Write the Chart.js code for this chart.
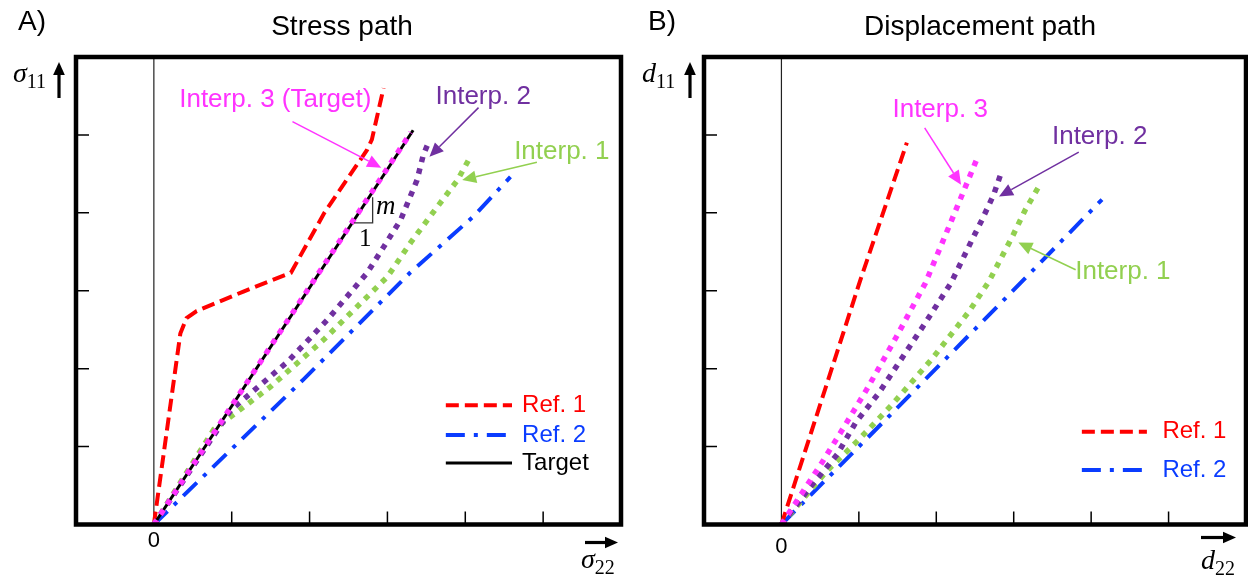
<!DOCTYPE html>
<html>
<head>
<meta charset="utf-8">
<script src="https://cdn.jsdelivr.net/npm/chart.js@4.4.0/dist/chart.umd.min.js"></script>
<style>
  html, body { margin: 0; padding: 0; background: #fff; }
  #quadro { position: relative; width: 1248px; height: 581px; overflow: hidden; }
  #quadro canvas { position: absolute; top: 0; }
</style>
</head>
<body>
<div id="quadro">
  <canvas id="graficoTensao" width="624" height="581" style="left:0"></canvas>
  <canvas id="graficoDesloc" width="624" height="581" style="left:624px"></canvas>
</div>
<script>
// valores, em unidades de marca (1 = um tick)
const marcasEixo = [1, 2, 3, 4, 5];

// A) Stress path: x = sigma22, y = sigma11
const tensaoRef1X = [0, 0.34, 0.42, 0.55, 1.15, 1.76, 2.19, 2.74, 2.80, 2.95];
const tensaoRef1Y = [0, 2.45, 2.65, 2.74, 2.99, 3.23, 4.00, 4.81, 4.94, 5.60];
const tensaoRef2X = [0, 0.69, 1.92, 3.29, 4.10, 4.58];
const tensaoRef2Y = [0, 0.67, 1.86, 3.23, 3.95, 4.46];
const tensaoAlvoX = [0, 3.33];
const tensaoAlvoY = [0, 5.06];
const tensaoInterp3X = [0, 3.30];
const tensaoInterp3Y = [0, 5.03];
const tensaoInterp2X = [0, 0.99, 1.72, 2.23, 2.74, 2.95, 3.17, 3.38, 3.46, 3.53];
const tensaoInterp2Y = [0, 1.47, 2.09, 2.63, 3.23, 3.56, 3.91, 4.42, 4.74, 4.91];
const tensaoInterp1X = [0, 0.77, 1.50, 2.18, 3.00, 3.30, 3.62, 3.90, 4.06];
const tensaoInterp1Y = [0, 1.22, 1.77, 2.37, 3.18, 3.62, 4.05, 4.42, 4.71];

// B) Displacement path: x = d22, y = d11
const deslocRef1X = [0, 0.52, 1.02, 1.62];
const deslocRef1Y = [0, 1.60, 3.14, 4.90];
const deslocRef2X = [0, 1.35, 2.94, 4.14];
const deslocRef2Y = [0, 1.35, 2.95, 4.17];
const deslocInterp3X = [0, 0.52, 0.77, 1.10, 1.48, 1.86, 2.20, 2.52];
const deslocInterp3Y = [0, 0.79, 1.19, 1.73, 2.40, 3.10, 3.91, 4.68];
const deslocInterp2X = [0, 0.38, 0.72, 0.96, 1.26, 1.60, 1.86, 2.19, 2.46, 2.59, 2.74, 2.83];
const deslocInterp2Y = [0, 0.49, 0.90, 1.31, 1.69, 2.20, 2.59, 3.10, 3.65, 3.91, 4.23, 4.49];
const deslocInterp1X = [0, 0.57, 1.00, 1.43, 1.94, 2.42, 2.68, 2.98, 3.15, 3.35];
const deslocInterp1Y = [0, 0.67, 1.09, 1.54, 2.12, 2.73, 3.12, 3.69, 4.04, 4.38];

const VERMELHO = "#ff0000";
const AZUL = "#0a3cff";
const PRETO = "#000000";
const MAGENTA = "#ff33ff";
const ROXO = "#7030a0";
const VERDE = "#92d050";
const FONTE = '"Liberation Sans", Arial, sans-serif';
const SERIFA = '"Liberation Serif", "DejaVu Serif", serif';
const PONTILHADO = [5.5, 6.5];

function pontos(xs, ys) {
  return xs.map((x, i) => ({ x: x, y: ys[i] }));
}

function serie(rotulo, xs, ys, cor, largura, traco, ordem) {
  return {
    label: rotulo,
    data: pontos(xs, ys),
    showLine: true,
    borderColor: cor,
    backgroundColor: cor,
    borderWidth: largura,
    borderDash: traco,
    borderCapStyle: "butt",
    pointRadius: 0,
    pointHoverRadius: 0,
    tension: 0,
    fill: false,
    order: ordem,
  };
}

function desenhaSeta(ctx, x1, y1, x2, y2, cor, largura, ponta) {
  const ang = Math.atan2(y2 - y1, x2 - x1);
  const bx = x2 - ponta * Math.cos(ang);
  const by = y2 - ponta * Math.sin(ang);
  const meia = ponta * 0.45;
  ctx.strokeStyle = cor;
  ctx.fillStyle = cor;
  ctx.lineWidth = largura;
  ctx.setLineDash([]);
  ctx.beginPath();
  ctx.moveTo(x1, y1);
  ctx.lineTo(bx, by);
  ctx.stroke();
  ctx.beginPath();
  ctx.moveTo(x2, y2);
  ctx.lineTo(bx + meia * Math.sin(ang), by - meia * Math.cos(ang));
  ctx.lineTo(bx - meia * Math.sin(ang), by + meia * Math.cos(ang));
  ctx.closePath();
  ctx.fill();
}

function desenhaVariavel(ctx, letra, sub, x, base) {
  ctx.fillStyle = PRETO;
  ctx.textAlign = "left";
  ctx.textBaseline = "alphabetic";
  ctx.font = "italic 28px " + SERIFA;
  ctx.fillText(letra, x, base);
  const w = ctx.measureText(letra).width;
  ctx.font = "20px " + SERIFA;
  ctx.fillText(sub, x + w, base + 6);
}

const enfeites = {
  id: "enfeites",
  beforeDatasetsDraw(chart) {
    const { ctx, chartArea: a, scales } = chart;
    const x0 = scales.x.getPixelForValue(0);
    ctx.save();
    ctx.strokeStyle = "#222";
    ctx.lineWidth = 1.2;
    ctx.beginPath();
    ctx.moveTo(x0, a.top);
    ctx.lineTo(x0, a.bottom);
    ctx.stroke();
    ctx.restore();
  },
  afterDraw(chart, args, op) {
    const { ctx, chartArea: a, scales } = chart;
    const px = (v) => scales.x.getPixelForValue(v);
    const py = (v) => scales.y.getPixelForValue(v);
    ctx.save();

    // marcas dos eixos, para dentro
    ctx.strokeStyle = PRETO;
    ctx.lineWidth = 1.5;
    marcasEixo.forEach((v) => {
      ctx.beginPath();
      ctx.moveTo(a.left, py(v));
      ctx.lineTo(a.left + 13, py(v));
      ctx.moveTo(px(v), a.bottom);
      ctx.lineTo(px(v), a.bottom - 13);
      ctx.stroke();
    });

    // moldura
    ctx.lineWidth = 4.5;
    ctx.strokeRect(a.left, a.top, a.right - a.left, a.bottom - a.top);

    // titulos
    ctx.fillStyle = PRETO;
    ctx.font = "28px " + FONTE;
    ctx.textBaseline = "middle";
    ctx.textAlign = "left";
    ctx.fillText(op.letra, op.letraX, 22);
    ctx.textAlign = "center";
    ctx.fillText(op.titulo, op.tituloX, 27);

    // zero no eixo x
    ctx.font = "22px " + FONTE;
    ctx.fillText("0", px(0), a.bottom + op.zeroDy);

    // rotulos dos eixos com setas
    const ey = op.eixoY;
    desenhaVariavel(ctx, ey.letra, ey.sub, a.left + ey.dx, a.top + 25);
    desenhaSeta(ctx, a.left + ey.setaDx, a.top + 41, a.left + ey.setaDx, a.top + 5, PRETO, 3.2, 13);
    const ex = op.eixoX;
    desenhaVariavel(ctx, ex.letra, ex.sub, a.right + ex.dx, a.bottom + ex.base);
    desenhaSeta(ctx, a.right + ex.setaDe, a.bottom + ex.setaDy, a.right + ex.setaAte, a.bottom + ex.setaDy, PRETO, 3.2, 13);

    // legenda
    const leg = op.legenda;
    leg.itens.forEach(([indice, yv]) => {
      const ds = chart.data.datasets[indice];
      ctx.strokeStyle = ds.borderColor;
      ctx.lineWidth = Math.max(ds.borderWidth, 3);
      ctx.lineCap = "butt";
      ctx.setLineDash(ds.borderDash || []);
      ctx.beginPath();
      ctx.moveTo(px(leg.x0), py(yv));
      ctx.lineTo(px(leg.x1), py(yv));
      ctx.stroke();
      ctx.setLineDash([]);
      ctx.fillStyle = ds.borderColor;
      ctx.font = "24px " + FONTE;
      ctx.textAlign = "left";
      ctx.textBaseline = "middle";
      ctx.fillText(ds.label, px(leg.xTexto), py(yv));
    });

    // anotacoes
    op.textos.forEach((t) => {
      ctx.fillStyle = t.cor;
      ctx.font = "26px " + FONTE;
      ctx.textAlign = "center";
      ctx.textBaseline = "middle";
      ctx.fillText(t.texto, px(t.x), py(t.y));
    });
    op.setas.forEach((s) => {
      desenhaSeta(ctx, px(s.de[0]), py(s.de[1]), px(s.para[0]), py(s.para[1]), s.cor, 1.5, 14);
    });

    // triangulo da inclinacao m
    if (op.triangulo) {
      const tr = op.triangulo;
      ctx.strokeStyle = "#333";
      ctx.lineWidth = 1.3;
      ctx.beginPath();
      ctx.moveTo(px(tr.x0), py(tr.y0));
      ctx.lineTo(px(tr.x1), py(tr.y0));
      ctx.lineTo(px(tr.x1), py(tr.y1));
      ctx.stroke();
      ctx.fillStyle = PRETO;
      ctx.textAlign = "center";
      ctx.textBaseline = "middle";
      ctx.font = "italic 27px " + SERIFA;
      ctx.fillText("m", px(tr.x1) + 13, py((tr.y0 + tr.y1) / 2) - 3);
      ctx.font = "25px " + SERIFA;
      ctx.fillText("1", px((tr.x0 + tr.x1) / 2) + 2, py(tr.y0) + 16);
    }

    ctx.restore();
  },
};

function criaGrafico(id, datasets, padding, enfeite) {
  return new Chart(document.getElementById(id), {
    type: "scatter",
    data: { datasets: datasets },
    options: {
      responsive: false,
      animation: false,
      layout: { padding: padding },
      scales: {
        x: { type: "linear", min: -1, max: 6, display: false },
        y: { type: "linear", min: 0, max: 6, display: false },
      },
      plugins: {
        legend: { display: false },
        tooltip: { enabled: false },
        enfeites: enfeite,
      },
    },
    plugins: [enfeites],
  });
}

const graficoTensao = criaGrafico(
  "graficoTensao",
  [
    serie("Ref. 1", tensaoRef1X, tensaoRef1Y, VERMELHO, 4, [13, 6], 5),
    serie("Ref. 2", tensaoRef2X, tensaoRef2Y, AZUL, 4, [19, 9, 4, 9], 6),
    serie("Target", tensaoAlvoX, tensaoAlvoY, PRETO, 3, [], 2),
    serie("Interp. 3", tensaoInterp3X, tensaoInterp3Y, MAGENTA, 5.5, PONTILHADO, 1),
    serie("Interp. 2", tensaoInterp2X, tensaoInterp2Y, ROXO, 5.5, PONTILHADO, 3),
    serie("Interp. 1", tensaoInterp1X, tensaoInterp1Y, VERDE, 5.5, PONTILHADO, 4),
  ],
  { left: 76, top: 57, right: 3, bottom: 56.5 },
  {
    letra: "A)", letraX: 18, titulo: "Stress path", tituloX: 342, zeroDy: 16,
    eixoY: { letra: "σ", sub: "11", dx: -63, setaDx: -17 },
    eixoX: { letra: "σ", sub: "22", dx: -40, base: 43, setaDe: -36, setaAte: -3, setaDy: 18 },
    legenda: { x0: 3.75, x1: 4.6, xTexto: 4.73, itens: [[0, 1.53], [1, 1.15], [2, 0.79]] },
    textos: [
      { texto: "Interp. 3 (Target)", x: 1.56, y: 5.45, cor: MAGENTA },
      { texto: "Interp. 2", x: 4.23, y: 5.49, cor: ROXO },
      { texto: "Interp. 1", x: 5.24, y: 4.78, cor: VERDE },
    ],
    setas: [
      { de: [1.78, 5.17], para: [2.92, 4.58], cor: MAGENTA },
      { de: [4.17, 5.35], para: [3.54, 4.72], cor: ROXO },
      { de: [4.92, 4.65], para: [3.96, 4.42], cor: VERDE },
    ],
    triangulo: { x0: 2.57, x1: 2.81, y0: 3.87, y1: 4.2 },
  }
);

const graficoDesloc = criaGrafico(
  "graficoDesloc",
  [
    serie("Ref. 1", deslocRef1X, deslocRef1Y, VERMELHO, 4, [13, 6], 5),
    serie("Ref. 2", deslocRef2X, deslocRef2Y, AZUL, 4, [19, 9, 4, 9], 6),
    serie("Interp. 3", deslocInterp3X, deslocInterp3Y, MAGENTA, 5.5, PONTILHADO, 1),
    serie("Interp. 2", deslocInterp2X, deslocInterp2Y, ROXO, 5.5, PONTILHADO, 3),
    serie("Interp. 1", deslocInterp1X, deslocInterp1Y, VERDE, 5.5, PONTILHADO, 4),
  ],
  { left: 80, top: 57, right: 2, bottom: 56.5 },
  {
    letra: "B)", letraX: 24, titulo: "Displacement path", tituloX: 356, zeroDy: 22,
    eixoY: { letra: "d", sub: "11", dx: -62, setaDx: -14 },
    eixoX: { letra: "d", sub: "22", dx: -45, base: 44, setaDe: -45, setaAte: -10, setaDy: 13 },
    legenda: { x0: 3.88, x1: 4.72, xTexto: 4.92, itens: [[0, 1.19], [1, 0.7]] },
    textos: [
      { texto: "Interp. 3", x: 2.05, y: 5.32, cor: MAGENTA },
      { texto: "Interp. 2", x: 4.11, y: 4.97, cor: ROXO },
      { texto: "Interp. 1", x: 4.41, y: 3.24, cor: VERDE },
    ],
    setas: [
      { de: [1.85, 5.09], para: [2.32, 4.36], cor: MAGENTA },
      { de: [3.84, 4.78], para: [2.81, 4.21], cor: ROXO },
      { de: [3.8, 3.27], para: [3.06, 3.62], cor: VERDE },
    ],
    triangulo: null,
  }
);
</script>
</body>
</html>
